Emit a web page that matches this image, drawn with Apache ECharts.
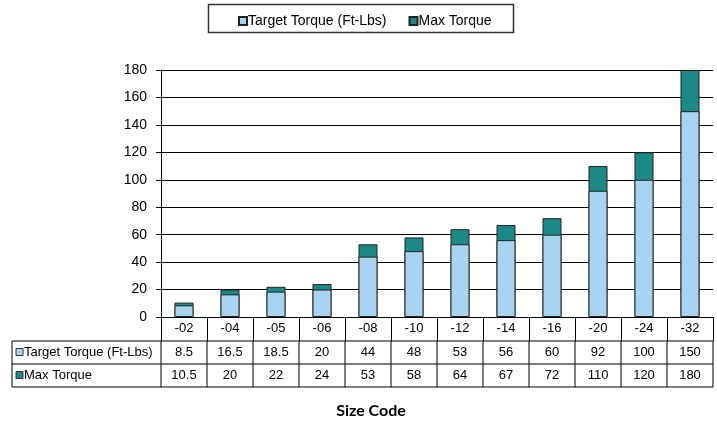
<!DOCTYPE html>
<html>
<head>
<meta charset="utf-8">
<script src="https://cdn.jsdelivr.net/npm/echarts@6/dist/echarts.min.js"></script>
<style>html,body{margin:0;padding:0;background:#fff;}#chart{width:717px;height:423px;}</style>
</head>
<body>
<div id="chart"></div>
<script>
var categories = ['-02','-04','-05','-06','-08','-10','-12','-14','-16','-20','-24','-32'];
var targetTorque = [8.5,16.5,18.5,20,44,48,53,56,60,92,100,150];
var maxTorque = [10.5,20,22,24,53,58,64,67,72,110,120,180];
var yTicks = {min:0, max:180, interval:20};
var seriesNames = ['Target Torque (Ft-Lbs)','Max Torque'];
var xTitle = 'Size Code';

var colTarget = '#A8D4F2';
var colMax = '#1B8A86';
var FONT = 'Arial, "Liberation Sans", sans-serif';

var chart = echarts.init(document.getElementById('chart'), null, {renderer:'canvas'});
var GL = 161, GR = 4, GT = 70, GB = 106;

chart.setOption({
  animation:false,
  backgroundColor:'#fff',
  textStyle:{fontFamily:FONT},
  legend:{
    data:seriesNames,
    top:9, left:233,
    itemWidth:8, itemHeight:8, itemGap:22,
    icon:'rect',
    textStyle:{fontSize:14, color:'#000', fontFamily:FONT, padding:[0,0,0,-4]},
    selectedMode:false
  },
  grid:{left:GL, right:GR, top:GT, bottom:GB, containLabel:false},
  xAxis:{
    type:'category', data:categories, boundaryGap:true,
    axisLine:{lineStyle:{color:'#000', width:1}},
    axisTick:{show:true, interval:0, length:24, inside:false, lineStyle:{color:'#000'}},
    axisLabel:{interval:0, margin:5, fontSize:13, color:'#000', fontFamily:FONT}
  },
  yAxis:{
    type:'value', min:yTicks.min, max:yTicks.max, interval:yTicks.interval,
    axisLine:{show:true, lineStyle:{color:'#000', width:1}},
    axisTick:{show:true, length:5, lineStyle:{color:'#000'}},
    axisLabel:{fontSize:14, color:'#000', margin:14, fontFamily:FONT},
    splitLine:{show:true, lineStyle:{color:'#000', width:1}}
  },
  series:[
    {name:seriesNames[1], type:'bar', data:maxTorque, barWidth:19, barGap:'-100%', z:2,
     itemStyle:{color:colMax, borderColor:'#222', borderWidth:1}},
    {name:seriesNames[0], type:'bar', data:targetTorque, barWidth:19, barGap:'-100%', z:3,
     itemStyle:{color:colTarget, borderColor:'#222', borderWidth:1}}
  ]
});

function buildTable(){
  var g = [];
  var n = categories.length;
  var x0 = chart.convertToPixel({xAxisIndex:0}, categories[0]);
  var x1 = chart.convertToPixel({xAxisIndex:0}, categories[1]);
  var cw = x1 - x0;
  var left = x0 - cw/2;
  var right = left + cw*n;
  var yAxisBottom = chart.convertToPixel({yAxisIndex:0}, 0);
  var hdrB = yAxisBottom + 24, r1B = hdrB + 23, r2B = r1B + 23;
  var tableL = 12;
  var ls = {stroke:'#000', lineWidth:1};
  function line(xa,ya,xb,yb){ g.push({type:'line', shape:{x1:xa,y1:ya,x2:xb,y2:yb}, style:ls, silent:true}); }
  line(tableL, hdrB, right, hdrB);
  line(tableL, r1B, right, r1B);
  line(tableL, r2B, right, r2B);
  line(tableL, hdrB, tableL, r2B);
  for (var i=0;i<=n;i++){ line(left+cw*i, hdrB, left+cw*i, r2B); }
  var rows = [targetTorque, maxTorque];
  var rowColors = [colTarget, colMax];
  var rowTops = [hdrB, r1B];
  for (var r=0;r<2;r++){
    var cy = rowTops[r] + 11.5;
    g.push({type:'rect', shape:{x:16, y:cy-4, width:7, height:7}, style:{fill:rowColors[r], stroke:'#333', lineWidth:1}, silent:true});
    g.push({type:'text', x:24, y:cy, style:{text:seriesNames[r], font:'13px '+FONT, fill:'#000', textVerticalAlign:'middle', verticalAlign:'middle'}, silent:true});
    for (var j=0;j<n;j++){
      var cx = chart.convertToPixel({xAxisIndex:0}, categories[j]);
      g.push({type:'text', x:cx, y:cy, style:{text:String(rows[r][j]), font:'13px '+FONT, fill:'#000', align:'center', textAlign:'center', verticalAlign:'middle', textVerticalAlign:'middle'}, silent:true});
    }
  }
  g.push({type:'text', x:371, y:411, style:{text:xTitle, font:'bold 16px Lato, "Liberation Sans", sans-serif', fill:'#000', align:'center', textAlign:'center', verticalAlign:'middle', textVerticalAlign:'middle'}, silent:true});
  g.push({type:'rect', shape:{x:208.5, y:4.5, width:305, height:28}, style:{fill:'none', stroke:'#333', lineWidth:1.5}, silent:true, z:-1});
  chart.setOption({graphic:g});
}
buildTable();
</script>
</body>
</html>
